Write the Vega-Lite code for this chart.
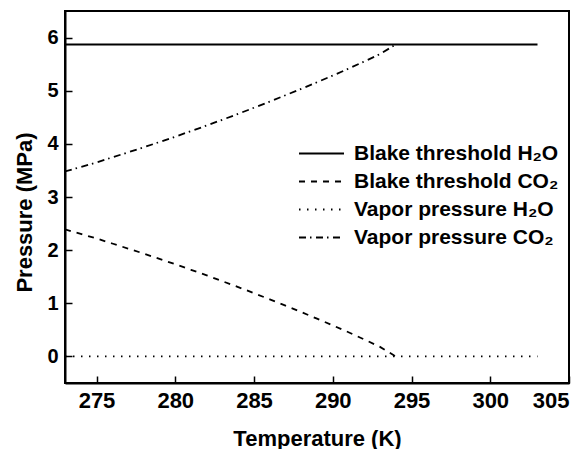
{
  "$schema": "https://vega.github.io/schema/vega-lite/v6.json",
  "width": 504,
  "height": 372,
  "autosize": {"type": "none"},
  "padding": {"left": 65, "top": 11, "right": 19, "bottom": 66},
  "background": "white",
  "config": {
    "view": {"stroke": "black", "strokeWidth": 2},
    "font": "Liberation Sans",
    "axis": {
      "grid": false,
      "domainColor": "black",
      "domainWidth": 2,
      "tickColor": "black",
      "tickWidth": 1.5,
      "tickSize": -7,
      "labelPadding": 14,
      "labelFont": "Liberation Sans",
      "labelFontWeight": "bold",
      "labelColor": "black",
      "titleFont": "Liberation Sans",
      "titleFontWeight": "bold",
      "titleFontSize": 22,
      "titleColor": "black"
    },
    "legend": {
      "orient": "none",
      "legendX": 244,
      "legendY": 130,
      "padding": 0,
      "symbolType": "M-2,0H2",
      "symbolSize": 506,
      "symbolStrokeWidth": 1.8,
      "symbolStrokeColor": "black",
      "labelFont": "Liberation Sans",
      "labelFontSize": 21,
      "labelFontWeight": "bold",
      "labelColor": "black",
      "labelOffset": 20,
      "rowPadding": 5,
      "labelLimit": 400
    }
  },
  "data": {
    "values": [
      {"T": 273, "P": 5.87, "series": "Blake threshold H₂O"},
      {"T": 303, "P": 5.87, "series": "Blake threshold H₂O"},
      {"T": 273, "P": 0, "series": "Vapor pressure H₂O"},
      {"T": 303, "P": 0, "series": "Vapor pressure H₂O"},
      {"T": 273, "P": 3.48, "series": "Vapor pressure CO₂"},
      {"T": 274, "P": 3.565, "series": "Vapor pressure CO₂"},
      {"T": 275, "P": 3.65, "series": "Vapor pressure CO₂"},
      {"T": 276, "P": 3.745, "series": "Vapor pressure CO₂"},
      {"T": 277, "P": 3.84, "series": "Vapor pressure CO₂"},
      {"T": 278, "P": 3.935, "series": "Vapor pressure CO₂"},
      {"T": 279, "P": 4.035, "series": "Vapor pressure CO₂"},
      {"T": 280, "P": 4.135, "series": "Vapor pressure CO₂"},
      {"T": 281, "P": 4.24, "series": "Vapor pressure CO₂"},
      {"T": 282, "P": 4.345, "series": "Vapor pressure CO₂"},
      {"T": 283, "P": 4.455, "series": "Vapor pressure CO₂"},
      {"T": 284, "P": 4.565, "series": "Vapor pressure CO₂"},
      {"T": 285, "P": 4.68, "series": "Vapor pressure CO₂"},
      {"T": 286, "P": 4.795, "series": "Vapor pressure CO₂"},
      {"T": 287, "P": 4.915, "series": "Vapor pressure CO₂"},
      {"T": 288, "P": 5.035, "series": "Vapor pressure CO₂"},
      {"T": 289, "P": 5.16, "series": "Vapor pressure CO₂"},
      {"T": 290, "P": 5.285, "series": "Vapor pressure CO₂"},
      {"T": 291, "P": 5.415, "series": "Vapor pressure CO₂"},
      {"T": 292, "P": 5.55, "series": "Vapor pressure CO₂"},
      {"T": 293, "P": 5.69, "series": "Vapor pressure CO₂"},
      {"T": 294, "P": 5.87, "series": "Vapor pressure CO₂"},
      {"T": 273, "P": 2.39, "series": "Blake threshold CO₂"},
      {"T": 274, "P": 2.305, "series": "Blake threshold CO₂"},
      {"T": 275, "P": 2.22, "series": "Blake threshold CO₂"},
      {"T": 276, "P": 2.125, "series": "Blake threshold CO₂"},
      {"T": 277, "P": 2.03, "series": "Blake threshold CO₂"},
      {"T": 278, "P": 1.935, "series": "Blake threshold CO₂"},
      {"T": 279, "P": 1.835, "series": "Blake threshold CO₂"},
      {"T": 280, "P": 1.735, "series": "Blake threshold CO₂"},
      {"T": 281, "P": 1.63, "series": "Blake threshold CO₂"},
      {"T": 282, "P": 1.525, "series": "Blake threshold CO₂"},
      {"T": 283, "P": 1.415, "series": "Blake threshold CO₂"},
      {"T": 284, "P": 1.305, "series": "Blake threshold CO₂"},
      {"T": 285, "P": 1.19, "series": "Blake threshold CO₂"},
      {"T": 286, "P": 1.075, "series": "Blake threshold CO₂"},
      {"T": 287, "P": 0.955, "series": "Blake threshold CO₂"},
      {"T": 288, "P": 0.835, "series": "Blake threshold CO₂"},
      {"T": 289, "P": 0.71, "series": "Blake threshold CO₂"},
      {"T": 290, "P": 0.585, "series": "Blake threshold CO₂"},
      {"T": 291, "P": 0.455, "series": "Blake threshold CO₂"},
      {"T": 292, "P": 0.32, "series": "Blake threshold CO₂"},
      {"T": 293, "P": 0.18, "series": "Blake threshold CO₂"},
      {"T": 294, "P": 0, "series": "Blake threshold CO₂"}
    ]
  },
  "mark": {"type": "line", "color": "black", "strokeWidth": 1.8, "clip": true},
  "encoding": {
    "x": {
      "field": "T",
      "type": "quantitative",
      "scale": {"domain": [273, 305], "nice": false, "zero": false},
      "axis": {
        "title": "Temperature (K)",
        "values": [275, 280, 285, 290, 295, 300, 305],
        "labelFontSize": 22,
        "titleY": 62,
        "titleBaseline": "alphabetic"
      }
    },
    "y": {
      "field": "P",
      "type": "quantitative",
      "scale": {"domain": [-0.5, 6.5], "nice": false, "zero": false},
      "axis": {
        "title": "Pressure (MPa)",
        "values": [0, 1, 2, 3, 4, 5, 6],
        "labelFontSize": 20,
        "titleX": -41,
        "titleY": 201,
        "titleAngle": -90,
        "titleAlign": "center",
        "titleBaseline": "middle"
      }
    },
    "strokeDash": {
      "field": "series",
      "type": "nominal",
      "sort": ["Blake threshold H₂O", "Blake threshold CO₂", "Vapor pressure H₂O", "Vapor pressure CO₂"],
      "scale": {
        "domain": ["Blake threshold H₂O", "Blake threshold CO₂", "Vapor pressure H₂O", "Vapor pressure CO₂"],
        "range": [[1, 0], [6, 6], [1.5, 6.5], [7, 4, 1.5, 4.5]]
      },
      "legend": {"title": null}
    }
  }
}
